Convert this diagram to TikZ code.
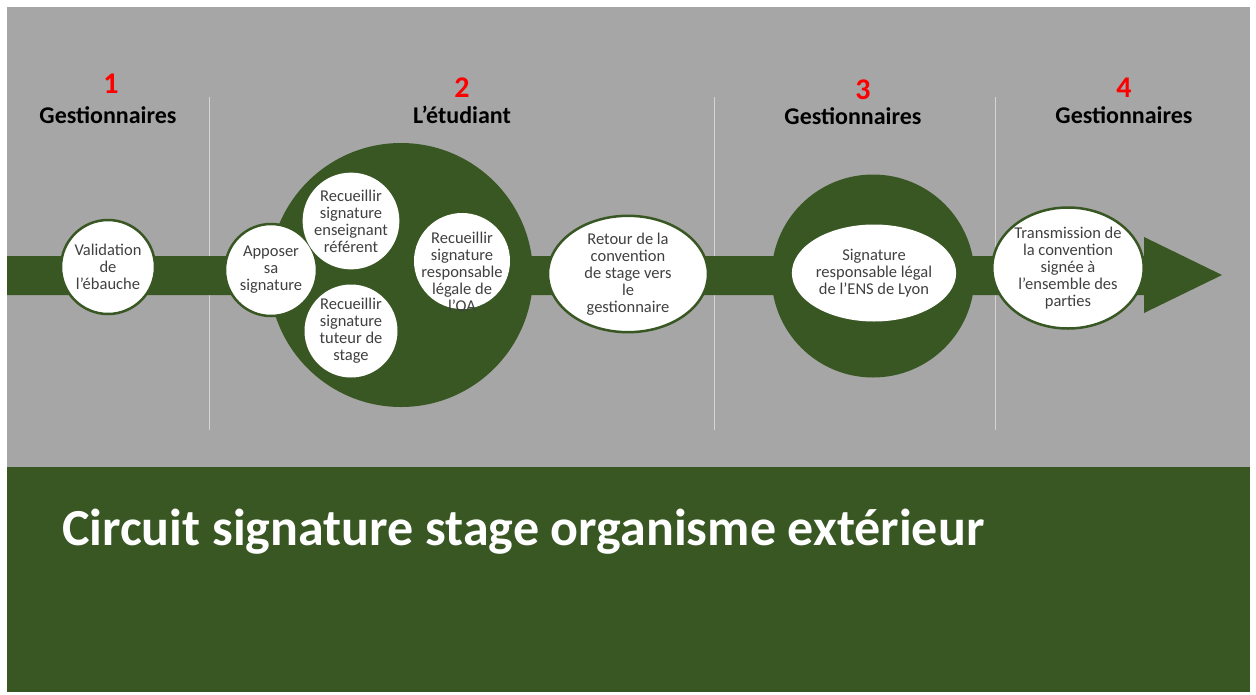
\documentclass[tikz,border=0pt]{standalone}
\usepackage{fontspec}
\setmainfont{Carlito}
\usetikzlibrary{shapes.geometric}
\definecolor{bggray}{RGB}{166,166,166}
\definecolor{dkgreen}{RGB}{56,87,35}
\definecolor{txtgray}{RGB}{64,64,64}
\definecolor{divline}{RGB}{212,212,212}
\definecolor{numred}{RGB}{255,0,0}
\begin{document}
\begin{tikzpicture}[x=1pt,y=-1pt,
  stepfont/.style={font=\fontsize{16.5}{17}\selectfont, text=txtgray},
  stepcirc/.style={circle, fill=white, draw=dkgreen, line width=2.5pt, inner sep=0pt, align=center, stepfont},
  stepell/.style={ellipse, fill=white, draw=dkgreen, line width=2.5pt, inner sep=0pt, align=center, stepfont},
  innercirc/.style={circle, fill=white, inner sep=0pt, align=center, stepfont, minimum size=93pt},
  steptext/.style={inner sep=0pt, align=center, stepfont},
  bigcirc/.style={circle, fill=dkgreen, inner sep=0pt},
  hdr/.style={anchor=base, inner sep=0pt, font=\bfseries\fontsize{24}{24}\selectfont, text=black},
  num/.style={anchor=base, inner sep=0pt, font=\bfseries\fontsize{30}{30}\selectfont, text=numred},
  divider/.style={draw=divline, line width=1pt}
]
\useasboundingbox (0,0) rectangle (1256,694);
\fill[white] (0,0) rectangle (1256,694);
\fill[bggray] (7,7) rectangle (1250,467);
\fill[dkgreen] (7,467) rectangle (1250,692);

% dividers
\coordinate (d1t) at (209,97);  \coordinate (d1b) at (209,430);
\coordinate (d2t) at (714,97);  \coordinate (d2b) at (714,430);
\coordinate (d3t) at (995,97);  \coordinate (d3b) at (995,430);
\draw[divider] (d1t) -- (d1b);
\draw[divider] (d2t) -- (d2b);
\draw[divider] (d3t) -- (d3b);

% headers
\node[num] (n1) at (111,93) {1};
\node[hdr] (h1) at (108,123) {Gestionnaires};
\node[num] (n2) at (462,97) {2};
\node[hdr] (h2) at (462,123) {L’étudiant};
\node[num] (n3) at (863,99) {3};
\node[hdr] (h3) at (853,124) {Gestionnaires};
\node[num] (n4) at (1124,97) {4};
\node[hdr] (h4) at (1124,123) {Gestionnaires};

% process band with arrow head
\fill[dkgreen] (7,256) -- (1144,256) -- (1144,237) -- (1222,275) -- (1144,313) -- (1144,295) -- (7,295) -- cycle;

% big green discs
\node[bigcirc, minimum size=264pt] (g2) at (401,275) {};
\node[bigcirc, minimum size=203pt] (g3) at (873,276) {};

% steps
\node[stepcirc, minimum size=94pt] (valid) at (108,267) {Validation\\de\\l’ébauche};
\node[stepcirc, minimum size=92pt] (appo) at (271,270) {Apposer\\sa\\signature};
\node[innercirc] (ens) at (351,221) {Recueillir\\signature\\enseignant\\référent};
\node[innercirc] (tut) at (351,331) {Recueillir\\signature\\tuteur de\\stage};
\node[innercirc, minimum size=96pt] (oa) at (462,261) {};
\node[steptext] (oatxt) at (462,272) {Recueillir\\signature\\responsable\\légale de\\l’OA};
\node[stepell, minimum width=160pt, minimum height=98pt] (ret) at (628,274) {Retour de la\\convention\\de stage vers\\le\\gestionnaire};
\node[stepell, draw=none, minimum width=159pt, minimum height=97pt] (sig) at (874,273) {Signature\\responsable légal\\de l’ENS de Lyon};
\node[stepell, minimum width=141pt, minimum height=121pt] (trans) at (1068,268) {Transmission de\\la convention\\signée à\\l’ensemble des\\parties};

% title
\node[anchor=base west, inner sep=0pt, text=white, font=\bfseries\fontsize{52}{52}\selectfont] (title) at (62,545) {Circuit signature stage organisme extérieur};
\end{tikzpicture}
\end{document}
